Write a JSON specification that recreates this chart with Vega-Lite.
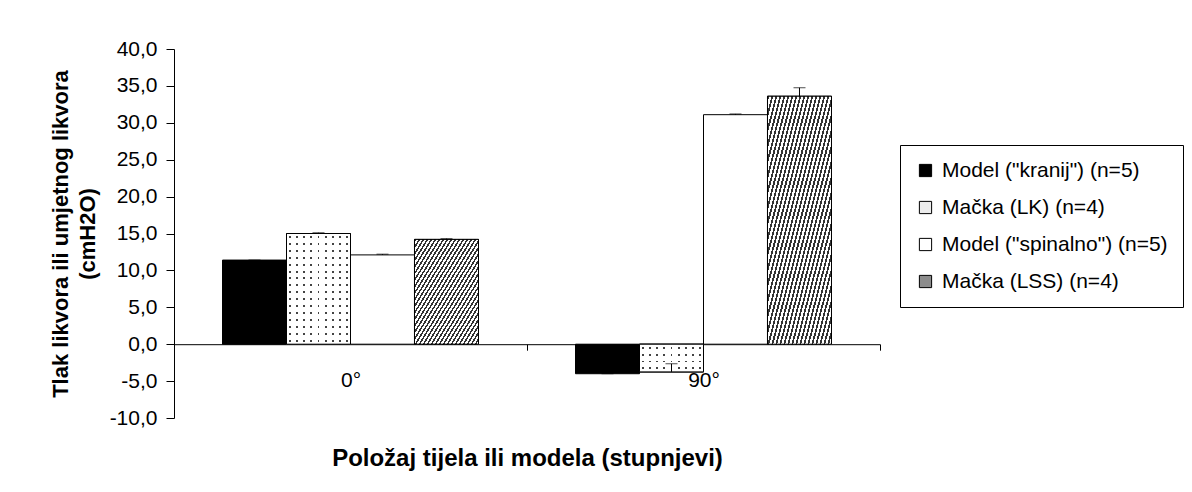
{
  "$schema": "https://vega.github.io/schema/vega-lite/v6.json",
  "width": 706,
  "height": 369,
  "autosize": {"type": "none"},
  "padding": {"left": 174, "top": 49, "right": 312, "bottom": 74},
  "background": "white",
  "config": {
    "view": {"stroke": null},
    "font": "Liberation Sans",
    "axis": {"labelFont": "Liberation Sans", "titleFont": "Liberation Sans", "domainColor": "black", "tickColor": "black", "labelColor": "black", "titleColor": "black", "grid": false},
    "legend": {"labelFont": "Liberation Sans"}
  },
  "data": {
    "values": [
      {"pos": "0°", "series": "Model (\"kranij\") (n=5)", "value": 11.4, "upper": 11.4},
      {"pos": "0°", "series": "Mačka (LK) (n=4)", "value": 15.0, "upper": 15.1},
      {"pos": "0°", "series": "Model (\"spinalno\") (n=5)", "value": 12.1, "upper": 12.2},
      {"pos": "0°", "series": "Mačka (LSS) (n=4)", "value": 14.2, "upper": 14.3},
      {"pos": "90°", "series": "Model (\"kranij\") (n=5)", "value": -4.0, "upper": -4.0},
      {"pos": "90°", "series": "Mačka (LK) (n=4)", "value": -3.75, "upper": -2.65},
      {"pos": "90°", "series": "Model (\"spinalno\") (n=5)", "value": 31.1, "upper": 31.2},
      {"pos": "90°", "series": "Mačka (LSS) (n=4)", "value": 33.6, "upper": 34.75}
    ]
  },
  "encoding": {
    "x": {
      "field": "pos", "type": "nominal", "sort": ["0°", "90°"],
      "scale": {"paddingInner": 0, "paddingOuter": 0},
      "title": "Položaj tijela ili modela (stupnjevi)",
      "axis": {"labelAngle": 0, "offset": -73.8, "tickBand": "extent", "tickSize": 6, "labelFontSize": 21, "labelPadding": 19, "titleFontSize": 24, "titleFontWeight": "bold", "titlePadding": 56, "domainWidth": 1, "tickWidth": 1}
    },
    "xOffset": {
      "field": "series", "type": "nominal",
      "sort": ["Model (\"kranij\") (n=5)", "Mačka (LK) (n=4)", "Model (\"spinalno\") (n=5)", "Mačka (LSS) (n=4)"],
      "scale": {"domain": ["Model (\"kranij\") (n=5)", "Mačka (LK) (n=4)", "Model (\"spinalno\") (n=5)", "Mačka (LSS) (n=4)"], "paddingInner": 0, "paddingOuter": 0.758}
    },
    "y": {
      "field": "value", "type": "quantitative",
      "scale": {"domain": [-10, 40], "nice": false, "zero": false},
      "title": ["Tlak likvora ili umjetnog likvora", "(cmH2O)"],
      "axis": {"values": [-10, -5, 0, 5, 10, 15, 20, 25, 30, 35, 40], "labelExpr": "replace(replace(format(datum.value, '.1f'), '.', ','), '−', '-')", "labelFontSize": 21, "labelPadding": 9, "tickSize": 8, "titleFontSize": 22, "titleFontWeight": "bold", "titleLineHeight": 27, "titlePadding": 10, "domainWidth": 1, "tickWidth": 1}
    }
  },
  "layer": [
    {
      "mark": {"type": "bar", "stroke": "black", "strokeWidth": 1},
      "encoding": {
        "color": {
          "field": "series", "type": "nominal",
          "scale": {"domain": ["Model (\"kranij\") (n=5)", "Mačka (LK) (n=4)", "Model (\"spinalno\") (n=5)", "Mačka (LSS) (n=4)"], "range": ["#000000", "#ececec", "#ffffff", "#8c8c8c"]},
          "legend": {"title": null, "orient": "none", "legendX": 726, "legendY": 96, "strokeColor": "black", "fillColor": "white", "padding": 15, "rowPadding": 15, "symbolType": "square", "symbolSize": 150, "symbolStrokeColor": "black", "symbolStrokeWidth": 1, "labelFontSize": 21, "labelColor": "black", "labelOffset": 6, "labelLimit": 400}
        }
      }
    },
    {
      "transform": [{"filter": {"field": "series", "equal": "Mačka (LSS) (n=4)"}}],
      "mark": {"type": "bar", "stroke": "black", "strokeWidth": 1, "fill": {"gradient": "linear", "x1": 0, "y1": 0, "x2": 1, "y2": 1, "stops": [
        {"offset": 0, "color": "#333"}, {"offset": 0.014, "color": "#333"}, {"offset": 0.014, "color": "#fff"}, {"offset": 0.03125, "color": "#fff"},
        {"offset": 0.03125, "color": "#333"}, {"offset": 0.04525, "color": "#333"}, {"offset": 0.04525, "color": "#fff"}, {"offset": 0.0625, "color": "#fff"},
        {"offset": 0.0625, "color": "#333"}, {"offset": 0.0765, "color": "#333"}, {"offset": 0.0765, "color": "#fff"}, {"offset": 0.09375, "color": "#fff"},
        {"offset": 0.09375, "color": "#333"}, {"offset": 0.10775, "color": "#333"}, {"offset": 0.10775, "color": "#fff"}, {"offset": 0.125, "color": "#fff"},
        {"offset": 0.125, "color": "#333"}, {"offset": 0.139, "color": "#333"}, {"offset": 0.139, "color": "#fff"}, {"offset": 0.15625, "color": "#fff"},
        {"offset": 0.15625, "color": "#333"}, {"offset": 0.17025, "color": "#333"}, {"offset": 0.17025, "color": "#fff"}, {"offset": 0.1875, "color": "#fff"},
        {"offset": 0.1875, "color": "#333"}, {"offset": 0.2015, "color": "#333"}, {"offset": 0.2015, "color": "#fff"}, {"offset": 0.21875, "color": "#fff"},
        {"offset": 0.21875, "color": "#333"}, {"offset": 0.23275, "color": "#333"}, {"offset": 0.23275, "color": "#fff"}, {"offset": 0.25, "color": "#fff"},
        {"offset": 0.25, "color": "#333"}, {"offset": 0.264, "color": "#333"}, {"offset": 0.264, "color": "#fff"}, {"offset": 0.28125, "color": "#fff"},
        {"offset": 0.28125, "color": "#333"}, {"offset": 0.29525, "color": "#333"}, {"offset": 0.29525, "color": "#fff"}, {"offset": 0.3125, "color": "#fff"},
        {"offset": 0.3125, "color": "#333"}, {"offset": 0.3265, "color": "#333"}, {"offset": 0.3265, "color": "#fff"}, {"offset": 0.34375, "color": "#fff"},
        {"offset": 0.34375, "color": "#333"}, {"offset": 0.35775, "color": "#333"}, {"offset": 0.35775, "color": "#fff"}, {"offset": 0.375, "color": "#fff"},
        {"offset": 0.375, "color": "#333"}, {"offset": 0.389, "color": "#333"}, {"offset": 0.389, "color": "#fff"}, {"offset": 0.40625, "color": "#fff"},
        {"offset": 0.40625, "color": "#333"}, {"offset": 0.42025, "color": "#333"}, {"offset": 0.42025, "color": "#fff"}, {"offset": 0.4375, "color": "#fff"},
        {"offset": 0.4375, "color": "#333"}, {"offset": 0.4515, "color": "#333"}, {"offset": 0.4515, "color": "#fff"}, {"offset": 0.46875, "color": "#fff"},
        {"offset": 0.46875, "color": "#333"}, {"offset": 0.48275, "color": "#333"}, {"offset": 0.48275, "color": "#fff"}, {"offset": 0.5, "color": "#fff"},
        {"offset": 0.5, "color": "#333"}, {"offset": 0.514, "color": "#333"}, {"offset": 0.514, "color": "#fff"}, {"offset": 0.53125, "color": "#fff"},
        {"offset": 0.53125, "color": "#333"}, {"offset": 0.54525, "color": "#333"}, {"offset": 0.54525, "color": "#fff"}, {"offset": 0.5625, "color": "#fff"},
        {"offset": 0.5625, "color": "#333"}, {"offset": 0.5765, "color": "#333"}, {"offset": 0.5765, "color": "#fff"}, {"offset": 0.59375, "color": "#fff"},
        {"offset": 0.59375, "color": "#333"}, {"offset": 0.60775, "color": "#333"}, {"offset": 0.60775, "color": "#fff"}, {"offset": 0.625, "color": "#fff"},
        {"offset": 0.625, "color": "#333"}, {"offset": 0.639, "color": "#333"}, {"offset": 0.639, "color": "#fff"}, {"offset": 0.65625, "color": "#fff"},
        {"offset": 0.65625, "color": "#333"}, {"offset": 0.67025, "color": "#333"}, {"offset": 0.67025, "color": "#fff"}, {"offset": 0.6875, "color": "#fff"},
        {"offset": 0.6875, "color": "#333"}, {"offset": 0.7015, "color": "#333"}, {"offset": 0.7015, "color": "#fff"}, {"offset": 0.71875, "color": "#fff"},
        {"offset": 0.71875, "color": "#333"}, {"offset": 0.73275, "color": "#333"}, {"offset": 0.73275, "color": "#fff"}, {"offset": 0.75, "color": "#fff"},
        {"offset": 0.75, "color": "#333"}, {"offset": 0.764, "color": "#333"}, {"offset": 0.764, "color": "#fff"}, {"offset": 0.78125, "color": "#fff"},
        {"offset": 0.78125, "color": "#333"}, {"offset": 0.79525, "color": "#333"}, {"offset": 0.79525, "color": "#fff"}, {"offset": 0.8125, "color": "#fff"},
        {"offset": 0.8125, "color": "#333"}, {"offset": 0.8265, "color": "#333"}, {"offset": 0.8265, "color": "#fff"}, {"offset": 0.84375, "color": "#fff"},
        {"offset": 0.84375, "color": "#333"}, {"offset": 0.85775, "color": "#333"}, {"offset": 0.85775, "color": "#fff"}, {"offset": 0.875, "color": "#fff"},
        {"offset": 0.875, "color": "#333"}, {"offset": 0.889, "color": "#333"}, {"offset": 0.889, "color": "#fff"}, {"offset": 0.90625, "color": "#fff"},
        {"offset": 0.90625, "color": "#333"}, {"offset": 0.92025, "color": "#333"}, {"offset": 0.92025, "color": "#fff"}, {"offset": 0.9375, "color": "#fff"},
        {"offset": 0.9375, "color": "#333"}, {"offset": 0.9515, "color": "#333"}, {"offset": 0.9515, "color": "#fff"}, {"offset": 0.96875, "color": "#fff"},
        {"offset": 0.96875, "color": "#333"}, {"offset": 0.98275, "color": "#333"}, {"offset": 0.98275, "color": "#fff"}, {"offset": 1, "color": "#fff"}
      ]}}
    },
    {
      "transform": [{"filter": {"field": "series", "equal": "Mačka (LK) (n=4)"}}],
      "mark": {"type": "bar", "stroke": "black", "strokeWidth": 1, "fill": {"gradient": "linear", "x1": 0, "y1": 0, "x2": 1, "y2": 0, "stops": [
        {"offset": 0, "color": "#fff"},
        {"offset": 0.0406, "color": "#fff"}, {"offset": 0.0406, "color": "#444"}, {"offset": 0.0706, "color": "#444"}, {"offset": 0.0706, "color": "#fff"},
        {"offset": 0.1517, "color": "#fff"}, {"offset": 0.1517, "color": "#444"}, {"offset": 0.1817, "color": "#444"}, {"offset": 0.1817, "color": "#fff"},
        {"offset": 0.2628, "color": "#fff"}, {"offset": 0.2628, "color": "#444"}, {"offset": 0.2928, "color": "#444"}, {"offset": 0.2928, "color": "#fff"},
        {"offset": 0.3739, "color": "#fff"}, {"offset": 0.3739, "color": "#444"}, {"offset": 0.4039, "color": "#444"}, {"offset": 0.4039, "color": "#fff"},
        {"offset": 0.485, "color": "#fff"}, {"offset": 0.485, "color": "#444"}, {"offset": 0.515, "color": "#444"}, {"offset": 0.515, "color": "#fff"},
        {"offset": 0.5961, "color": "#fff"}, {"offset": 0.5961, "color": "#444"}, {"offset": 0.6261, "color": "#444"}, {"offset": 0.6261, "color": "#fff"},
        {"offset": 0.7072, "color": "#fff"}, {"offset": 0.7072, "color": "#444"}, {"offset": 0.7372, "color": "#444"}, {"offset": 0.7372, "color": "#fff"},
        {"offset": 0.8183, "color": "#fff"}, {"offset": 0.8183, "color": "#444"}, {"offset": 0.8483, "color": "#444"}, {"offset": 0.8483, "color": "#fff"},
        {"offset": 0.9294, "color": "#fff"}, {"offset": 0.9294, "color": "#444"}, {"offset": 0.9594, "color": "#444"}, {"offset": 0.9594, "color": "#fff"},
        {"offset": 1, "color": "#fff"}
      ]}}
    },
    {
      "transform": [{"filter": {"and": [{"field": "series", "equal": "Mačka (LK) (n=4)"}, {"field": "pos", "equal": "0°"}]}}],
      "mark": {"type": "bar", "stroke": "black", "strokeWidth": 1, "fill": {"gradient": "linear", "x1": 0, "y1": 0, "x2": 0, "y2": 1, "stops": [
        {"offset": 0, "color": "#ffffff"},
        {"offset": 0.02225, "color": "#ffffff"}, {"offset": 0.02225, "color": "rgba(255,255,255,0)"}, {"offset": 0.04025, "color": "rgba(255,255,255,0)"}, {"offset": 0.04025, "color": "#ffffff"},
        {"offset": 0.08475, "color": "#ffffff"}, {"offset": 0.08475, "color": "rgba(255,255,255,0)"}, {"offset": 0.10275, "color": "rgba(255,255,255,0)"}, {"offset": 0.10275, "color": "#ffffff"},
        {"offset": 0.14725, "color": "#ffffff"}, {"offset": 0.14725, "color": "rgba(255,255,255,0)"}, {"offset": 0.16525, "color": "rgba(255,255,255,0)"}, {"offset": 0.16525, "color": "#ffffff"},
        {"offset": 0.20975, "color": "#ffffff"}, {"offset": 0.20975, "color": "rgba(255,255,255,0)"}, {"offset": 0.22775, "color": "rgba(255,255,255,0)"}, {"offset": 0.22775, "color": "#ffffff"},
        {"offset": 0.27225, "color": "#ffffff"}, {"offset": 0.27225, "color": "rgba(255,255,255,0)"}, {"offset": 0.29025, "color": "rgba(255,255,255,0)"}, {"offset": 0.29025, "color": "#ffffff"},
        {"offset": 0.33475, "color": "#ffffff"}, {"offset": 0.33475, "color": "rgba(255,255,255,0)"}, {"offset": 0.35275, "color": "rgba(255,255,255,0)"}, {"offset": 0.35275, "color": "#ffffff"},
        {"offset": 0.39725, "color": "#ffffff"}, {"offset": 0.39725, "color": "rgba(255,255,255,0)"}, {"offset": 0.41525, "color": "rgba(255,255,255,0)"}, {"offset": 0.41525, "color": "#ffffff"},
        {"offset": 0.45975, "color": "#ffffff"}, {"offset": 0.45975, "color": "rgba(255,255,255,0)"}, {"offset": 0.47775, "color": "rgba(255,255,255,0)"}, {"offset": 0.47775, "color": "#ffffff"},
        {"offset": 0.52225, "color": "#ffffff"}, {"offset": 0.52225, "color": "rgba(255,255,255,0)"}, {"offset": 0.54025, "color": "rgba(255,255,255,0)"}, {"offset": 0.54025, "color": "#ffffff"},
        {"offset": 0.58475, "color": "#ffffff"}, {"offset": 0.58475, "color": "rgba(255,255,255,0)"}, {"offset": 0.60275, "color": "rgba(255,255,255,0)"}, {"offset": 0.60275, "color": "#ffffff"},
        {"offset": 0.64725, "color": "#ffffff"}, {"offset": 0.64725, "color": "rgba(255,255,255,0)"}, {"offset": 0.66525, "color": "rgba(255,255,255,0)"}, {"offset": 0.66525, "color": "#ffffff"},
        {"offset": 0.70975, "color": "#ffffff"}, {"offset": 0.70975, "color": "rgba(255,255,255,0)"}, {"offset": 0.72775, "color": "rgba(255,255,255,0)"}, {"offset": 0.72775, "color": "#ffffff"},
        {"offset": 0.77225, "color": "#ffffff"}, {"offset": 0.77225, "color": "rgba(255,255,255,0)"}, {"offset": 0.79025, "color": "rgba(255,255,255,0)"}, {"offset": 0.79025, "color": "#ffffff"},
        {"offset": 0.83475, "color": "#ffffff"}, {"offset": 0.83475, "color": "rgba(255,255,255,0)"}, {"offset": 0.85275, "color": "rgba(255,255,255,0)"}, {"offset": 0.85275, "color": "#ffffff"},
        {"offset": 0.89725, "color": "#ffffff"}, {"offset": 0.89725, "color": "rgba(255,255,255,0)"}, {"offset": 0.91525, "color": "rgba(255,255,255,0)"}, {"offset": 0.91525, "color": "#ffffff"},
        {"offset": 0.95975, "color": "#ffffff"}, {"offset": 0.95975, "color": "rgba(255,255,255,0)"}, {"offset": 0.97775, "color": "rgba(255,255,255,0)"}, {"offset": 0.97775, "color": "#ffffff"},
        {"offset": 1, "color": "#ffffff"}
      ]}}
    },
    {
      "transform": [{"filter": {"and": [{"field": "series", "equal": "Mačka (LK) (n=4)"}, {"field": "pos", "equal": "90°"}]}}],
      "mark": {"type": "bar", "stroke": "black", "strokeWidth": 1, "fill": {"gradient": "linear", "x1": 0, "y1": 0, "x2": 0, "y2": 1, "stops": [
        {"offset": 0, "color": "#ffffff"},
        {"offset": 0.09, "color": "#ffffff"}, {"offset": 0.09, "color": "rgba(255,255,255,0)"}, {"offset": 0.16, "color": "rgba(255,255,255,0)"}, {"offset": 0.16, "color": "#ffffff"},
        {"offset": 0.34, "color": "#ffffff"}, {"offset": 0.34, "color": "rgba(255,255,255,0)"}, {"offset": 0.41, "color": "rgba(255,255,255,0)"}, {"offset": 0.41, "color": "#ffffff"},
        {"offset": 0.59, "color": "#ffffff"}, {"offset": 0.59, "color": "rgba(255,255,255,0)"}, {"offset": 0.66, "color": "rgba(255,255,255,0)"}, {"offset": 0.66, "color": "#ffffff"},
        {"offset": 0.84, "color": "#ffffff"}, {"offset": 0.84, "color": "rgba(255,255,255,0)"}, {"offset": 0.91, "color": "rgba(255,255,255,0)"}, {"offset": 0.91, "color": "#ffffff"},
        {"offset": 1, "color": "#ffffff"}
      ]}}
    },
    {
      "mark": {"type": "rule", "color": "black", "strokeWidth": 1},
      "encoding": {"y2": {"field": "upper"}}
    },
    {
      "mark": {"type": "tick", "orient": "horizontal", "color": "black", "size": 12, "thickness": 1},
      "encoding": {
        "y": {"field": "upper", "type": "quantitative", "title": ["Tlak likvora ili umjetnog likvora", "(cmH2O)"]}
      }
    }
  ]
}
